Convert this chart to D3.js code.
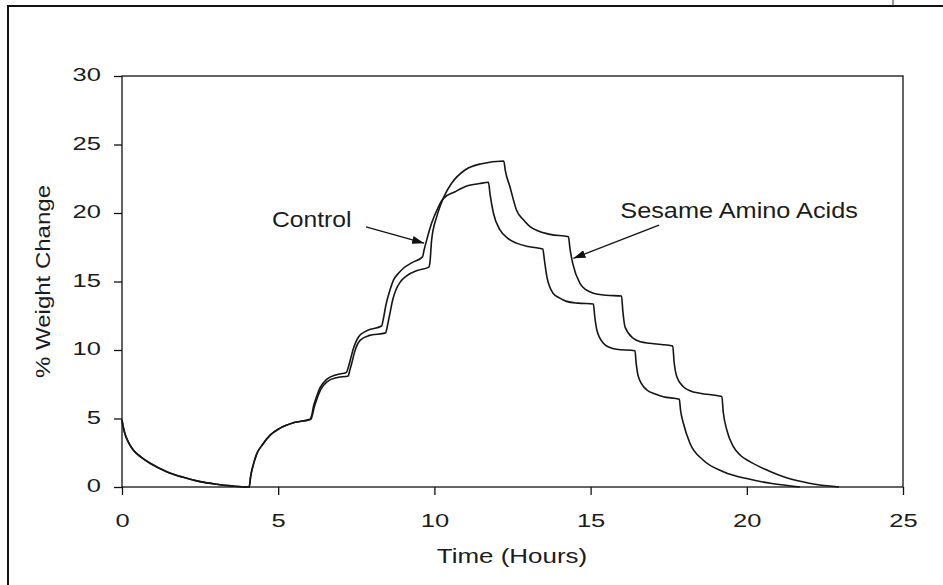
<!DOCTYPE html>
<html>
<head>
<meta charset="utf-8">
<script src="https://cdn.jsdelivr.net/npm/d3@7"></script>
<style>
  html, body { margin: 0; padding: 0; background: #fff; }
  svg { display: block; }
  text { font-family: "Liberation Sans", Arial, sans-serif; fill: #1c1c1c; }
</style>
</head>
<body>
<svg id="chart" width="943" height="585"></svg>
<script>
// Time (hours) and % weight change for each treatment
const controlTime = [0, 0.03, 0.08, 0.2, 0.36, 0.6, 0.9, 1.43, 1.96, 2.5, 3.03, 3.5, 4.0, 4.07, 4.12, 4.2, 4.31, 4.5, 4.75, 5.06, 5.5, 6.02,
  6.08, 6.13, 6.2, 6.34, 6.55, 6.87, 7.18,
  7.24, 7.3, 7.4, 7.57, 7.83, 8.31,
  8.36, 8.45, 8.58, 8.69, 8.85, 9.0, 9.3, 9.62,
  9.67, 9.75, 9.91, 10.13, 10.28, 10.66, 11.09, 11.45, 11.73,
  11.78, 11.89, 12.1, 12.35, 12.63, 13.0, 13.47,
  13.52, 13.6, 13.8, 14.0, 14.23, 14.6, 15.09,
  15.13, 15.2, 15.41, 15.6, 15.83, 16.42,
  16.46, 16.53, 16.8, 17.05, 17.33, 17.84,
  17.88, 17.97, 18.18, 18.6, 19.25, 20.1, 20.8, 21.7];
const controlPct = [4.9, 4.5, 4.0, 3.3, 2.7, 2.2, 1.73, 1.12, 0.71, 0.39, 0.2, 0.08, 0.0, 0.0, 0.8, 1.6, 2.4, 3.1, 3.8, 4.3, 4.7, 4.95,
  5.3, 5.9, 6.4, 7.25, 7.85, 8.2, 8.35,
  8.7, 9.2, 10.05, 10.95, 11.4, 11.75,
  12.2, 13.3, 14.4, 15.1, 15.6, 15.95, 16.4, 16.8,
  17.3, 18.0, 19.25, 20.45, 21.05, 21.55, 22.0, 22.15, 22.24,
  21.4, 19.98, 18.76, 18.15, 17.8, 17.55, 17.37,
  16.6, 15.35, 14.14, 13.8, 13.55, 13.42, 13.36,
  12.5, 11.46, 10.49, 10.2, 10.05, 9.95,
  9.0, 8.05, 7.08, 6.8, 6.59, 6.4,
  5.6, 4.65, 3.19, 1.97, 1.12, 0.56, 0.25, 0.0];

const sesameTime = [0, 0.03, 0.08, 0.2, 0.36, 0.6, 0.9, 1.43, 1.96, 2.5, 3.03, 3.5, 4.0, 4.07, 4.12, 4.2, 4.31, 4.5, 4.75, 5.06, 5.5, 6.05,
  6.1, 6.15, 6.22, 6.36, 6.57, 6.9, 7.24,
  7.29, 7.35, 7.45, 7.62, 7.9, 8.44,
  8.49, 8.57, 8.67, 8.77, 8.92, 9.1, 9.45, 9.82,
  9.86, 9.91, 10.07, 10.2, 10.33, 10.55, 10.98, 11.51, 12.22,
  12.27, 12.42, 12.63, 12.85, 13.06, 13.7, 14.29,
  14.34, 14.43, 14.66, 14.85, 15.09, 15.5, 15.99,
  16.03, 16.1, 16.37, 16.6, 16.9, 17.63,
  17.67, 17.76, 17.97, 18.2, 18.5, 19.2,
  19.25, 19.36, 19.57, 19.8, 20.1, 20.64, 21.3, 22.0, 22.95];
const sesamePct = [4.9, 4.5, 4.0, 3.3, 2.7, 2.2, 1.73, 1.12, 0.71, 0.39, 0.2, 0.08, 0.0, 0.0, 0.8, 1.6, 2.4, 3.1, 3.8, 4.3, 4.7, 4.95,
  5.3, 5.8, 6.3, 7.1, 7.7, 8.0, 8.1,
  8.5, 9.0, 9.9, 10.7, 11.05, 11.25,
  11.7, 12.6, 13.7, 14.4, 15.0, 15.4, 15.8, 16.05,
  16.45, 18.0, 19.7, 20.6, 21.3, 22.17, 23.14, 23.6, 23.8,
  23.1, 21.9, 20.2, 19.5, 19.0, 18.44, 18.27,
  17.4, 16.3, 14.87, 14.4, 14.14, 14.0, 13.94,
  12.9, 11.7, 10.85, 10.6, 10.49, 10.29,
  9.2, 8.05, 7.32, 7.0, 6.84, 6.6,
  5.4, 4.16, 2.94, 2.3, 1.85, 1.24, 0.65, 0.28, 0.0];

const xTicks = [0, 5, 10, 15, 20, 25];
const yTicks = [0, 5, 10, 15, 20, 25, 30];
const xTitle = "Time (Hours)";
const yTitle = "% Weight Change";

// Annotation labels: text, label anchor (hours, %), arrow tail and arrow tip (hours, %)
const labelNames = ["Control", "Sesame Amino Acids"];
const labelAt = [[4.8, 18.98], [15.95, 19.64]];
const arrowFrom = [[7.81, 18.98], [17.19, 19.12]];
const arrowTo = [[9.67, 17.8], [14.45, 16.69]];

const svg = d3.select("#chart");
const W = 943, H = 585;

const x = d3.scaleLinear().domain([0, 25]).range([122, 903]);
const y = d3.scaleLinear().domain([0, 30]).range([487, 76]);

// widen glyphs horizontally by factor k
function stretch(sel, k) {
  sel.each(function () {
    const w = this.getComputedTextLength();
    d3.select(this).attr("textLength", w * k).attr("lengthAdjust", "spacingAndGlyphs");
  });
}

// page frame
svg.append("rect").attr("x", 8).attr("y", 6).attr("width", W + 20).attr("height", H + 20)
  .attr("fill", "none").attr("stroke", "#111").attr("stroke-width", 2);
svg.append("line").attr("x1", 893).attr("x2", 893).attr("y1", 0).attr("y2", 6)
  .attr("stroke", "#333").attr("stroke-width", 1);

// plot box
svg.append("rect")
  .attr("x", x(0)).attr("y", y(30))
  .attr("width", x(25) - x(0)).attr("height", y(0) - y(30))
  .attr("fill", "none").attr("stroke", "#111").attr("stroke-width", 1.3);

// axes
const gx = svg.append("g").attr("transform", `translate(0,${y(0)})`)
  .call(d3.axisBottom(x).tickValues(xTicks).tickSize(8).tickSizeOuter(0).tickFormat(d3.format("d")));
const gy = svg.append("g").attr("transform", `translate(${x(0)},0)`)
  .call(d3.axisLeft(y).tickValues(yTicks).tickSize(8).tickPadding(13).tickSizeOuter(0).tickFormat(d3.format("d")));

[gx, gy].forEach(g => {
  g.select(".domain").remove();
  g.selectAll(".tick line").attr("stroke", "#111").attr("stroke-width", 1.3);
  g.selectAll(".tick text").attr("font-family", null).attr("font-size", "18.5px").style("fill", "#1c1c1c");
});
gx.selectAll(".tick text").attr("y", 40).attr("dy", 0);
gy.selectAll(".tick text").attr("dy", "0.26em");
stretch(gx.selectAll(".tick text"), 1.38);
stretch(gy.selectAll(".tick text"), 1.38);

// axis titles
const xt = svg.append("text").attr("x", (x(0) + x(25)) / 2 - 0.5).attr("y", 563)
  .attr("text-anchor", "middle").attr("font-size", "19.5px").text(xTitle);
stretch(xt, 1.33);
const yt = svg.append("text").attr("transform", `translate(50,${(y(0) + y(30)) / 2})rotate(-90)`)
  .attr("text-anchor", "middle").attr("font-size", "20px").text(yTitle);
stretch(yt, 1.2);

// curves
const line = d3.line().x(d => x(d[0])).y(d => y(d[1])).curve(d3.curveMonotoneX);
const series = [
  d3.zip(controlTime, controlPct),
  d3.zip(sesameTime, sesamePct)
];
svg.append("g").selectAll("path").data(series).join("path")
  .attr("d", line)
  .attr("fill", "none").attr("stroke", "#151515").attr("stroke-width", 1.6)
  .attr("stroke-linejoin", "round");

// annotations with arrows
svg.append("defs").append("marker")
  .attr("id", "head").attr("viewBox", "0 0 12 8").attr("refX", 12).attr("refY", 4)
  .attr("markerWidth", 12).attr("markerHeight", 8).attr("markerUnits", "userSpaceOnUse")
  .attr("orient", "auto")
  .append("path").attr("d", "M0,0L12,4L0,8Z").attr("fill", "#111");

labelNames.forEach((name, i) => {
  const t = svg.append("text")
    .attr("x", x(labelAt[i][0])).attr("y", y(labelAt[i][1]))
    .attr("font-size", "22px").text(name);
  stretch(t, i === 0 ? 1.12 : 1.15);
  svg.append("line")
    .attr("x1", x(arrowFrom[i][0])).attr("y1", y(arrowFrom[i][1]))
    .attr("x2", x(arrowTo[i][0])).attr("y2", y(arrowTo[i][1]))
    .attr("stroke", "#111").attr("stroke-width", 1.3)
    .attr("marker-end", "url(#head)");
});
</script>
</body>
</html>
